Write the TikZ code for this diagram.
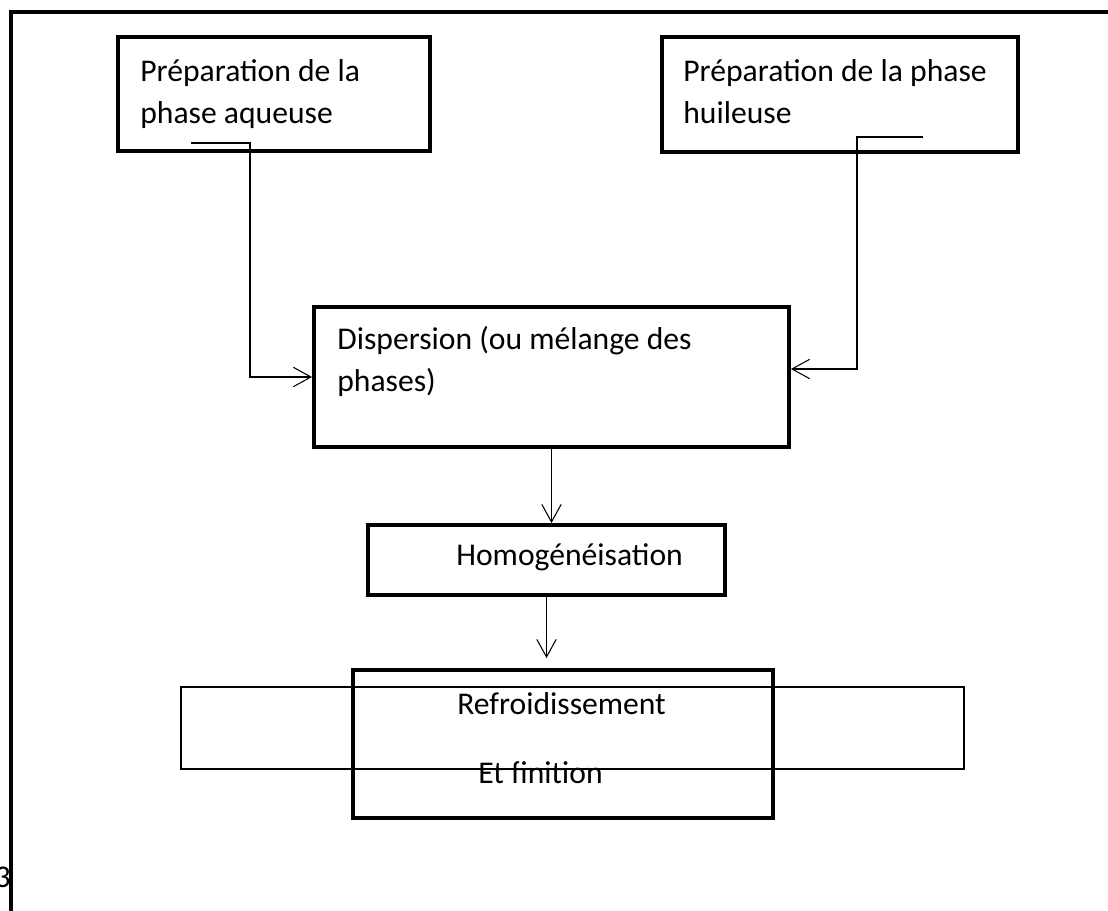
\documentclass[tikz,border=0pt]{standalone}
\usepackage{fontspec}
\setmainfont{Carlito}
\usetikzlibrary{arrows.meta}

\begin{document}
\begin{tikzpicture}[
    box/.style={draw, rectangle, line width=2.2pt, inner sep=0pt},
    thinbox/.style={draw, rectangle, line width=0.6pt, inner sep=0pt},
    txt/.style={anchor=base west, align=left, inner sep=0pt, font=\fontsize{18}{24}\selectfont},
    link/.style={line width=0.6pt, -{Straight Barb[length=10pt, width=11pt]}}
]
    \useasboundingbox (0, 0) rectangle (22.16, -18.22);

    % boxes
    \node[box, minimum width=6.24cm, minimum height=2.28cm] (aq) at (5.48, -1.88) {};
    \node[box, minimum width=7.12cm, minimum height=2.30cm] (hu) at (16.80, -1.89) {};
    \node[box, minimum width=9.50cm, minimum height=2.80cm] (disp) at (11.03, -7.54) {};
    \node[box, minimum width=7.14cm, minimum height=1.40cm] (homo) at (10.93, -11.20) {};
    \node[box, minimum width=8.40cm, minimum height=2.96cm] (refr) at (11.26, -14.88) {};
    \node[thinbox, minimum width=15.66cm, minimum height=1.64cm] (band) at (11.45, -14.56) {};

    % texts (base = last line)
    \node[txt] (aqtxt) at (2.80, -2.48) {Préparation de la\\phase aqueuse};
    \node[txt] (hutxt) at (13.66, -2.48) {Préparation de la phase\\huileuse};
    \node[txt] (disptxt) at (6.74, -7.84) {Dispersion (ou mélange des\\phases)};
    \node[txt] (homotxt) at (9.12, -11.30) {Homogénéisation};
    \node[txt] (refrtxt) at (9.14, -14.28) {Refroidissement};
    \node[txt] (fintxt) at (9.56, -15.66) {Et finition};
    \node[txt, anchor=base east] (num) at (0.22, -17.74) {3};

    % connectors
    \coordinate (aqout) at (3.82, -2.86);
    \coordinate (huout) at (18.46, -2.74);
    \draw[link] (aqout) -- ++(1.18, 0) |- (disp.west);
    \draw[link] (huout) -- ++(-1.32, 0) |- ([yshift=0.16cm]disp.east);
    \draw[link] (disp.south) -- (disp.south |- homo.north);
    \draw[link, shorten >=0.2cm] (homo.south) -- (homo.south |- refr.north);

    % frame
    \draw[line width=2pt] (0.22, -18.22) -- (0.22, -0.24) -- (22.16, -0.24);
\end{tikzpicture}
\end{document}
